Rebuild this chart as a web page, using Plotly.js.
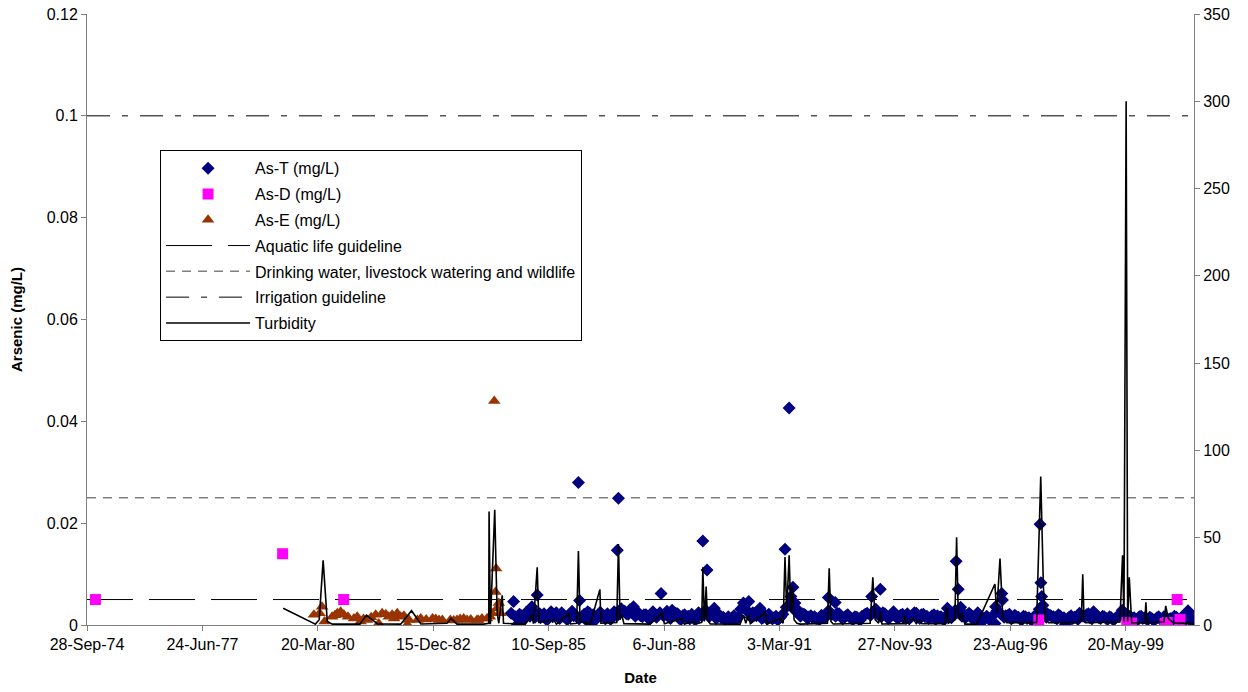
<!DOCTYPE html>
<html>
<head>
<meta charset="utf-8">
<script src="https://cdn.plot.ly/plotly-3.0.1.min.js"></script>
<style>
  html, body { margin: 0; padding: 0; background: #fff; }
  #chart { width: 1248px; height: 692px; }
</style>
</head>
<body>
<div id="chart"></div>
<script>
// tick labels on the date axis (Excel major unit = 1000 days)
var tickDates = ['1974-09-28','1977-06-24','1980-03-20','1982-12-15','1985-09-10',
                 '1988-06-06','1991-03-03','1993-11-27','1996-08-23','1999-05-20'];
var tickLabels = ['28-Sep-74','24-Jun-77','20-Mar-80','15-Dec-82','10-Sep-85',
                  '6-Jun-88','3-Mar-91','27-Nov-93','23-Aug-96','20-May-99'];

// As-T (mg/L)
var asTDates = [
 '1984-10-20','1984-11-10','1984-11-28','1984-12-15',
 '1985-01-15','1985-02-15','1985-03-15','1985-04-18','1985-05-15','1985-06-03','1985-06-25','1985-07-15','1985-08-15','1985-09-15','1985-10-15','1985-11-15','1985-12-15',
 '1986-01-15','1986-02-15','1986-03-15','1986-04-15','1986-05-26','1986-06-05','1986-07-15','1986-08-15','1986-09-15','1986-10-15','1986-11-15','1986-12-15',
 '1987-01-15','1987-02-15','1987-03-15','1987-04-28','1987-05-08','1987-06-10','1987-07-15','1987-08-15','1987-09-15','1987-10-15','1987-11-15','1987-12-15',
 '1988-01-15','1988-02-15','1988-03-15','1988-04-15','1988-05-11','1988-06-15','1988-07-15','1988-08-15','1988-09-15','1988-10-15','1988-11-15','1988-12-15',
 '1989-01-15','1989-02-15','1989-03-15','1989-04-15','1989-05-08','1989-06-13','1989-07-15','1989-08-15','1989-09-15','1989-10-15','1989-11-15','1989-12-15',
 '1990-01-15','1990-02-15','1990-03-15','1990-04-25','1990-05-15','1990-06-10','1990-07-15','1990-08-15','1990-09-15','1990-10-15','1990-11-15','1990-12-15',
 '1991-01-15','1991-02-15','1991-03-15','1991-04-20','1991-05-26','1991-06-10','1991-06-28','1991-07-15','1991-08-10','1991-09-15','1991-10-15','1991-11-15','1991-12-15',
 '1992-01-15','1992-02-15','1992-03-15','1992-04-30','1992-06-28','1992-07-15','1992-08-15','1992-09-15','1992-10-15','1992-11-15','1992-12-15',
 '1993-01-15','1993-02-15','1993-03-15','1993-05-10','1993-06-15','1993-07-24','1993-08-15','1993-09-15','1993-10-15','1993-11-15','1993-12-15',
 '1994-01-15','1994-02-15','1994-03-15','1994-04-15','1994-05-15','1994-06-15','1994-07-15','1994-08-15','1994-09-15','1994-10-15','1994-11-15','1994-12-15',
 '1995-01-15','1995-02-25','1995-04-15','1995-05-12','1995-05-30','1995-06-20','1995-07-15','1995-08-15','1995-09-15','1995-10-15','1995-11-15','1995-12-05',
 '1996-01-20','1996-02-20','1996-04-12','1996-04-18','1996-06-10','1996-06-16','1996-07-15','1996-08-15','1996-09-15','1996-10-15','1996-11-15','1996-12-15',
 '1997-01-15','1997-02-15','1997-03-15','1997-05-08','1997-05-15','1997-05-22','1997-06-01','1997-07-10','1997-08-15','1997-09-15','1997-10-15','1997-11-15','1997-12-15',
 '1998-01-15','1998-02-15','1998-04-15','1998-05-15','1998-06-15','1998-07-15','1998-08-15','1998-09-15','1998-10-15','1998-11-15','1998-12-15',
 '1999-01-15','1999-02-15','1999-04-20','1999-05-30','1999-06-15','1999-07-15','1999-08-15','1999-09-15','1999-10-15','1999-11-15','1999-12-15',
 '2000-01-15','2000-02-15','2000-03-15','2000-04-15','2000-05-15','2000-06-15','2000-07-15','2000-08-15','2000-09-15','2000-10-15','2000-11-10','2000-12-10',
 // extra samples taken at the start of each month
 '1985-01-01','1985-02-01','1985-03-01','1985-04-01','1985-05-01','1985-06-01','1985-07-01','1985-08-01','1985-09-01','1985-10-01','1985-11-01','1985-12-01',
 '1986-01-01','1986-02-01','1986-03-01','1986-04-01','1986-05-01','1986-06-01','1986-07-01','1986-08-01','1986-09-01','1986-10-01','1986-11-01','1986-12-01',
 '1987-01-01','1987-02-01','1987-03-01','1987-04-01','1987-05-01','1987-06-01','1987-07-01','1987-08-01','1987-09-01','1987-10-01','1987-11-01','1987-12-01',
 '1988-01-01','1988-02-01','1988-03-01','1988-04-01','1988-05-01','1988-06-01','1988-07-01','1988-08-01','1988-09-01','1988-10-01','1988-11-01','1988-12-01',
 '1989-01-01','1989-02-01','1989-03-01','1989-04-01','1989-05-01','1989-06-01','1989-07-01','1989-08-01','1989-09-01','1989-10-01','1989-11-01','1989-12-01',
 '1990-01-01','1990-02-01','1990-03-01','1990-04-01','1990-05-01','1990-06-01','1990-07-01','1990-08-01','1990-09-01','1990-10-01','1990-11-01','1990-12-01',
 '1991-01-01','1991-02-01','1991-03-01','1991-04-01','1991-05-01','1991-06-01','1991-07-01','1991-08-01','1991-09-01','1991-10-01','1991-11-01','1991-12-01',
 '1992-01-01','1992-02-01','1992-03-01','1992-04-01','1992-05-01','1992-06-01','1992-07-01','1992-08-01','1992-09-01','1992-10-01','1992-11-01','1992-12-01',
 '1993-01-01','1993-02-01','1993-03-01','1993-04-01','1993-05-01','1993-06-01','1993-07-01','1993-08-01','1993-09-01','1993-10-01','1993-11-01','1993-12-01',
 '1994-01-01','1994-02-01','1994-03-01','1994-04-01','1994-05-01','1994-06-01','1994-07-01','1994-08-01','1994-09-01','1994-10-01','1994-11-01','1994-12-01',
 '1995-01-01','1995-02-01','1995-03-01','1995-04-01','1995-05-01','1995-06-01','1995-07-01','1995-08-01','1995-09-01','1995-10-01','1995-11-01','1995-12-01',
 '1996-01-01','1996-02-01','1996-03-01','1996-04-01','1996-05-01','1996-06-01','1996-07-01','1996-08-01','1996-09-01','1996-10-01','1996-11-01','1996-12-01',
 '1997-01-01','1997-02-01','1997-03-01','1997-04-01','1997-05-01','1997-06-01','1997-07-01','1997-08-01','1997-09-01','1997-10-01','1997-11-01','1997-12-01',
 '1998-01-01','1998-02-01','1998-03-01','1998-04-01','1998-05-01','1998-06-01','1998-07-01','1998-08-01','1998-09-01','1998-10-01','1998-11-01','1998-12-01',
 '1999-01-01','1999-02-01','1999-03-01','1999-04-01','1999-05-01','1999-06-01','1999-07-01','1999-08-01','1999-09-01','1999-10-01','1999-11-01','1999-12-01',
 '2000-01-01','2000-02-01','2000-03-01','2000-04-01','2000-05-01','2000-06-01','2000-07-01','2000-08-01','2000-09-01','2000-10-01','2000-11-01','2000-12-01'
];
var asTValues = [
 0.0023,0.0046,0.0016,0.0001,
 0.0018,0.0014,0.0021,0.0036,0.0015,0.0059,0.0022,0.0017,0.0012,0.0019,0.0016,0.0024,0.0013,
 0.0017,0.0011,0.0020,0.0018,0.0280,0.0048,0.0021,0.0026,0.0002,0.0014,0.0016,0.0019,
 0.0012,0.0015,0.0017,0.0147,0.0249,0.0028,0.0022,0.0030,0.0036,0.0024,0.0018,0.0020,
 0.0014,0.0017,0.0022,0.0019,0.0062,0.0021,0.0016,0.0029,0.0023,0.0013,0.0018,0.0015,
 0.0012,0.0016,0.0014,0.0020,0.0165,0.0108,0.0025,0.0033,0.0019,0.0014,0.0011,0.0016,
 0.0013,0.0009,0.0016,0.0043,0.0030,0.0046,0.0024,0.0018,0.0033,0.0015,0.0012,0.0017,
 0.0014,0.0010,0.0016,0.0149,0.0426,0.0056,0.0074,0.0043,0.0029,0.0022,0.0019,0.0016,0.0014,
 0.0013,0.0011,0.0015,0.0054,0.0044,0.0023,0.0018,0.0015,0.0020,0.0013,0.0016,
 0.0012,0.0017,0.0021,0.0056,0.0031,0.0070,0.0024,0.0018,0.0015,0.0026,0.0014,
 0.0019,0.0013,0.0022,0.0017,0.0024,0.0015,0.0020,0.0016,0.0013,0.0018,0.0011,0.0015,
 0.0012,0.0033,0.0018,0.0125,0.0070,0.0035,0.0022,0.0019,0.0020,0.0016,0.0024,0.0002,
 0.0014,0.0011,0.0003,0.0036,0.0062,0.0049,0.0018,0.0021,0.0014,0.0016,0.0012,0.0017,
 0.0013,0.0011,0.0016,0.0198,0.0083,0.0056,0.0039,0.0022,0.0017,0.0014,0.0020,0.0012,0.0001,
 0.0015,0.0013,0.0023,0.0017,0.0020,0.0014,0.0026,0.0018,0.0013,0.0016,0.0011,
 0.0014,0.0012,0.0029,0.0015,0.0018,0.0013,0.0011,0.0016,0.0013,0.0012,0.0015,
 0.0010,0.0014,0.0012,0.0016,0.0011,0.0013,0.0017,0.0012,0.0015,0.0010,0.0028,0.0007,
 0.0021,0.0013,0.0025,0.0017,0.0028,0.0019,0.0014,0.0022,0.0011,0.0026,0.0018,0.0015,
 0.0024,0.0016,0.0013,0.0027,0.0019,0.0012,0.0017,0.0010,0.0023,0.0020,0.0013,0.0025,
 0.0018,0.0022,0.0011,0.0026,0.0019,0.0032,0.0027,0.0021,0.0025,0.0017,0.0023,0.0016,
 0.0020,0.0012,0.0026,0.0015,0.0024,0.0018,0.0027,0.0013,0.0019,0.0022,0.0011,0.0020,
 0.0017,0.0021,0.0010,0.0024,0.0018,0.0029,0.0016,0.0022,0.0013,0.0019,0.0015,0.0012,
 0.0010,0.0018,0.0013,0.0031,0.0038,0.0027,0.0015,0.0022,0.0026,0.0013,0.0019,0.0021,
 0.0012,0.0017,0.0013,0.0021,0.0035,0.0040,0.0032,0.0025,0.0017,0.0021,0.0013,0.0018,
 0.0016,0.0012,0.0019,0.0014,0.0028,0.0021,0.0017,0.0022,0.0012,0.0018,0.0015,0.0011,
 0.0015,0.0010,0.0018,0.0023,0.0019,0.0028,0.0021,0.0016,0.0022,0.0013,0.0019,0.0017,
 0.0014,0.0021,0.0016,0.0012,0.0019,0.0023,0.0013,0.0021,0.0017,0.0014,0.0020,0.0018,
 0.0016,0.0011,0.0021,0.0014,0.0028,0.0024,0.0017,0.0014,0.0023,0.0012,0.0018,0.0011,
 0.0009,0.0017,0.0012,0.0020,0.0028,0.0022,0.0015,0.0018,0.0012,0.0019,0.0015,0.0010,
 0.0016,0.0014,0.0011,0.0018,0.0031,0.0024,0.0015,0.0019,0.0016,0.0012,0.0017,0.0014,
 0.0012,0.0018,0.0015,0.0011,0.0019,0.0016,0.0022,0.0012,0.0020,0.0014,0.0017,0.0013,
 0.0016,0.0010,0.0015,0.0019,0.0022,0.0012,0.0016,0.0014,0.0010,0.0017,0.0014,0.0011,
 0.0013,0.0011,0.0016,0.0009,0.0014,0.0012,0.0010,0.0015,0.0011,0.0016,0.0013,0.0020
];

// As-D (mg/L)
var asDDates = ['1974-12-10','1979-05-20','1980-10-30','1997-04-27','1999-05-30','1999-07-10',
                '2000-04-25','2000-05-15','2000-08-08','2000-09-02'];
var asDValues = [0.005,0.014,0.005,0.001,0.0005,0.0004,0.0003,0.0005,0.005,0.0011];

// As-E (mg/L)
var asEDates = ['1980-02-15','1980-04-05','1980-04-25','1980-05-18','1980-07-22','1980-09-05','1980-10-04',
                '1980-11-01','1980-12-06','1981-01-27','1981-02-25','1981-03-26','1981-05-22','1981-08-03',
                '1981-08-30','1981-09-28','1981-11-24','1981-12-24','1982-02-06','1982-03-08','1982-05-05',
                '1982-05-20','1982-07-31','1982-08-29','1982-12-09','1983-02-03','1983-03-04','1983-05-12',
                '1983-07-09','1983-09-05','1983-10-04','1983-12-29','1984-02-10','1984-03-25','1984-05-08',
                '1984-05-27','1984-06-06','1984-06-12','1984-06-21','1984-07-05','1984-07-20',
                '1980-08-15','1981-04-20','1981-06-25','1981-10-30','1982-01-10','1982-04-05','1982-10-15',
                '1983-01-05','1983-06-10','1983-08-05','1983-11-05','1984-01-10','1984-04-20'];
var asEValues = [0.0020,0.0023,0.0036,0.0007,0.0016,0.0023,0.0026,
                 0.0020,0.0016,0.0013,0.0016,0.0007,0.0010,0.0020,
                 0.0003,0.0023,0.0016,0.0020,0.0023,0.0016,0.0001,
                 0.0010,0.0010,0.0013,0.0013,0.0010,0.0010,0.0010,
                 0.0010,0.0013,0.0010,0.0010,0.0013,0.0013,0.0023,
                 0.0440,0.0065,0.0111,0.0033,0.0043,0.0023,
                 0.0019,0.0012,0.0015,0.0021,0.0013,0.0018,0.0011,
                 0.0012,0.0009,0.0012,0.0011,0.0010,0.0016];

// Guidelines (mg/L)
var guideDates = ['1974-09-28','2001-01-01'];
var aquaticLife = 0.005;
var drinkingWater = 0.025;
var irrigation = 0.1;

// Turbidity (NTU, right axis)
var turbDates = [
 '1979-05-25','1980-02-28','1980-04-01','1980-05-05','1980-06-10','1980-07-25','1981-03-20','1981-05-15','1981-08-20',
 '1982-03-08','1982-06-10','1982-08-30','1983-04-13','1983-05-19','1983-07-09','1984-02-25','1984-04-09','1984-04-12',
 '1984-04-23','1984-05-31','1984-06-10','1984-06-21','1984-07-05','1984-08-04','1984-08-15','1984-11-25','1985-02-20',
 '1985-04-20','1985-05-01','1985-06-03','1985-06-17','1985-10-23','1985-11-17','1986-03-04','1986-03-18','1986-05-11',
 '1986-05-26','1986-06-09','1986-09-06','1986-11-28','1986-12-07','1987-04-23','1987-05-08','1987-05-22','1987-06-07',
 '1987-06-24','1988-02-07','1988-05-19','1988-06-09','1988-11-09','1988-11-29','1989-02-17','1989-03-13','1989-04-28',
 '1989-05-08','1989-05-22','1989-06-06','1989-06-17','1989-07-12','1990-03-27','1990-04-26','1990-05-15','1990-06-09',
 '1990-06-24','1990-11-01','1990-11-18','1991-03-08','1991-04-04','1991-04-20','1991-05-05','1991-05-26','1991-06-09',
 '1991-06-23','1991-07-08','1991-08-01','1991-08-29','1992-04-22','1992-05-07','1992-05-22','1992-06-11','1993-04-27',
 '1993-05-20','1993-06-09','1993-07-09','1993-07-22','1993-08-07','1994-02-03','1994-02-18','1994-03-04','1994-05-05',
 '1994-05-31','1994-06-25','1994-07-20','1995-02-05','1995-02-20','1995-03-05','1995-05-01','1995-05-16','1995-05-30',
 '1995-06-14','1995-06-29','1995-07-27','1995-11-07','1996-04-12','1996-04-27','1996-05-26','1996-06-19','1996-07-24',
 '1997-04-08','1997-05-14','1997-06-06','1997-06-21','1997-07-20','1998-03-24','1998-05-01','1998-05-13','1998-05-24',
 '1998-06-06','1999-03-31','1999-04-23','1999-05-05','1999-05-24','1999-06-06','1999-06-20','1999-07-11','1999-11-02',
 '1999-11-11','1999-11-22','2000-04-16','2000-05-01','2000-05-23','2000-07-05','2000-12-27'
];
var turbValues = [
 9.6,0.5,3,37,2,0.5,0.5,5.7,0.6,
 0.5,8.2,0.6,1,3.8,0.5,0.5,1,65,
 0.5,66,37,6.7,1,17,1,0.8,0.5,
 5.7,0.8,33,1.5,3,0.5,6.7,0.6,1,
 42.4,2,0.5,20.4,1,1.5,46.4,3,5.7,
 0.8,0.5,6.7,0.7,3.8,0.5,2,0.6,1.5,
 33,2,22,3,0.6,0.5,5.7,1,5.7,
 0.8,7,0.5,3.8,1,39,7.6,40,7.6,
 22,3,1,0.5,1,32.5,2,0.6,1,
 27.3,3,1,7.6,0.6,0.8,5.7,0.6,3.5,
 0.8,3,0.7,0.8,10.5,1,3,50.2,6.7,
 3,6.7,0.5,0.5,23.5,6.7,38,4.8,1.3,
 1.5,85,22,3.8,1.3,1.3,3,29,3,
 1.3,1.8,40,2,300,2,27.3,1.3,1.3,
 13,1.3,1.8,11,3.8,1.3,0.8
];

var FONT = 'Arial, "Liberation Sans", sans-serif';

function guide(name, val, dash, color, width, rank) {
  return {
    x: guideDates, y: guideDates.map(function () { return val; }),
    type: 'scatter', mode: 'lines', name: name, legendrank: rank, legendgroup: 'g' + rank,
    line: { color: color, width: width, dash: dash }, hoverinfo: 'skip'
  };
}

var data = [
  guide('Aquatic life guideline', aquaticLife, '46px,16px', '#000000', 1, 4),
  guide('Drinking water, livestock watering and wildlife', drinkingWater, '9px,7px', '#808080', 1.5, 5),
  guide('Irrigation guideline', irrigation, '23px,12px,6px,12px', '#000000', 1, 6),
  { x: asTDates, y: asTValues, type: 'scatter', mode: 'markers', name: 'As-T (mg/L)', legendrank: 1, legendgroup: 'g1',
    marker: { symbol: 'diamond', size: 10, color: '#000080' } },
  { x: asDDates, y: asDValues, type: 'scatter', mode: 'markers', name: 'As-D (mg/L)', legendrank: 2, legendgroup: 'g2',
    marker: { symbol: 'square', size: 11, color: '#FF00FF' } },
  { x: asEDates, y: asEValues, type: 'scatter', mode: 'markers', name: 'As-E (mg/L)', legendrank: 3, legendgroup: 'g3',
    marker: { symbol: 'triangle-up', size: 11, color: '#993300' } },
  { x: turbDates, y: turbValues, type: 'scatter', mode: 'lines', name: 'Turbidity', legendrank: 7, legendgroup: 'g7',
    yaxis: 'y2', line: { color: '#000000', width: 1.6 } }
];

var layout = {
  width: 1248, height: 692,
  paper_bgcolor: '#fff', plot_bgcolor: '#fff',
  margin: { l: 87, r: 54, t: 14, b: 67 },
  font: { family: FONT, size: 16, color: '#000' },
  showlegend: true,
  legend: {
    x: 0.066, y: 0.777, xanchor: 'left', yanchor: 'top',
    bgcolor: '#fff', bordercolor: '#000', borderwidth: 1,
    font: { family: FONT, size: 16 }, itemwidth: 84,
    traceorder: 'grouped', tracegroupgap: 2
  },
  xaxis: {
    type: 'date', range: ['1974-09-28', '2001-01-01'],
    tickvals: tickDates, ticktext: tickLabels,
    showgrid: false, zeroline: false, showline: true, linecolor: '#808080', linewidth: 1,
    ticks: 'outside', ticklen: 5, tickcolor: '#808080',
    title: { text: '<b>Date</b>', font: { size: 15 }, standoff: 20 }
  },
  yaxis: {
    range: [0, 0.12], dtick: 0.02, tickformat: '~g',
    showgrid: false, zeroline: false, showline: true, linecolor: '#808080', linewidth: 1,
    ticks: 'outside', ticklen: 5, tickcolor: '#808080',
    title: { text: '<b>Arsenic (mg/L)</b>', font: { size: 15 }, standoff: 20 }
  },
  yaxis2: {
    overlaying: 'y', side: 'right', range: [0, 350], dtick: 50,
    showgrid: false, zeroline: false, showline: true, linecolor: '#808080', linewidth: 1,
    ticks: 'outside', ticklen: 5, tickcolor: '#808080'
  }
};

Plotly.newPlot('chart', data, layout, { staticPlot: true, displayModeBar: false });
</script>
</body>
</html>
